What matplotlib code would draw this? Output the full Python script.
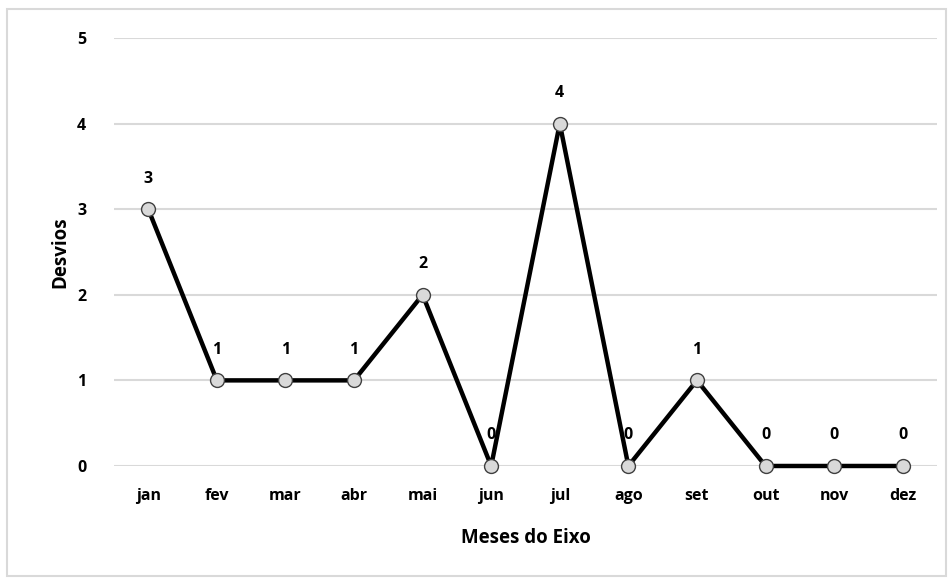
import matplotlib.pyplot as plt
from matplotlib.patches import Rectangle

meses = ["jan", "fev", "mar", "abr", "mai", "jun", "jul", "ago", "set", "out", "nov", "dez"]
desvios = [3, 1, 1, 1, 2, 0, 4, 0, 1, 0, 0, 0]
y_ticks = [0, 1, 2, 3, 4, 5]

plt.rcParams['font.family'] = ['Open Sans', 'DejaVu Sans']
plt.rcParams['font.weight'] = 'bold'

fig = plt.figure(figsize=(9.53, 5.79), dpi=100)
ax = fig.add_axes([0.1196, 0.1952, 0.8636, 0.7392])

# moldura externa do gráfico
fig.patches.append(Rectangle((0.0073, 0.005), 0.985, 0.979, transform=fig.transFigure,
                             fill=False, edgecolor='#d9d9d9', linewidth=1.5))

x = list(range(len(meses)))
ax.plot(x, desvios, color='black', linewidth=3.2, marker='o', markersize=10,
        markerfacecolor='#d9d9d9', markeredgecolor='#404040', markeredgewidth=1,
        zorder=3, clip_on=False)

for xi, v in zip(x, desvios):
    ax.annotate(str(v), (xi, v), xytext=(0, 22), textcoords='offset points',
                ha='center', va='center', fontsize=11.5, fontweight='bold')

ax.set_xlim(-0.5, len(meses) - 0.5)
ax.set_ylim(0, 5)
ax.set_xticks(x)
ax.set_xticklabels(meses, fontweight='bold')
ax.set_yticks(y_ticks)
ax.set_yticklabels([str(t) for t in y_ticks], fontweight='bold')
ax.tick_params(axis='both', length=0, labelsize=11.5)
ax.tick_params(axis='y', pad=20)
ax.tick_params(axis='x', pad=16)
ax.grid(axis='y', color='#d9d9d9', linewidth=1.5)
ax.set_axisbelow(True)
for s in ax.spines.values():
    s.set_visible(False)

ax.set_xlabel("Meses do Eixo", fontsize=13.5, fontweight='bold', labelpad=17)
ax.set_ylabel("Desvios", fontsize=13.5, fontweight='bold', labelpad=5)

fig.savefig("out.png", dpi=100)
